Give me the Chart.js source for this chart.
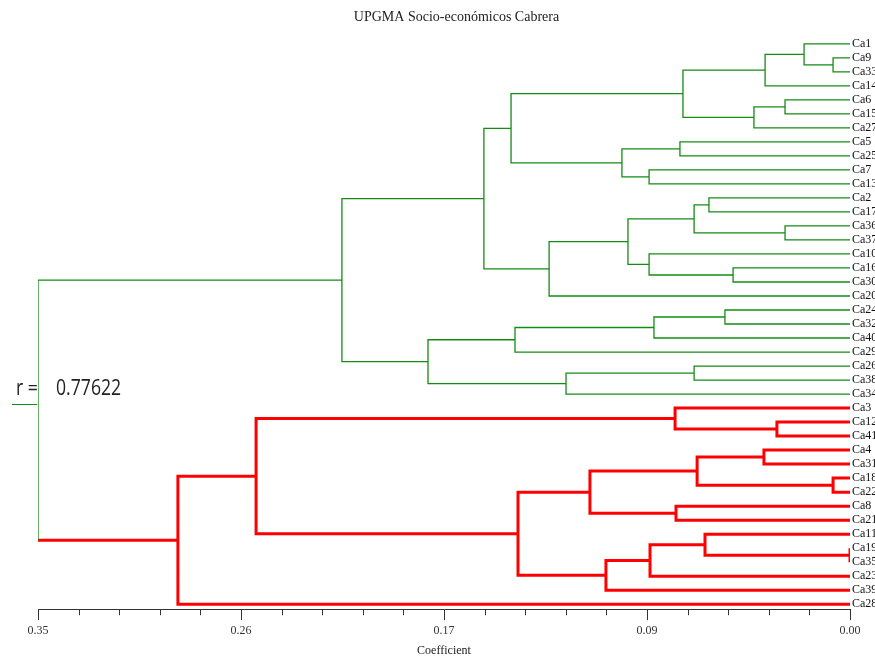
<!DOCTYPE html>
<html>
<head>
<meta charset="utf-8">
<script src="https://cdn.jsdelivr.net/npm/chart.js@4.4.1/dist/chart.umd.min.js"></script>
<style>
    html, body { margin: 0; padding: 0; background: #fff; }
    #dendro { display: block; }
</style>
</head>
<body>
<canvas id="dendro" width="875" height="661"></canvas>
<script>
// =====================================================
// UPGMA dendrogram (Chart.js scatter lines)
// =====================================================

// leaf order, top to bottom
const leaves = [
    'Ca1', 'Ca9', 'Ca33', 'Ca14', 'Ca6', 'Ca15', 'Ca27', 'Ca5', 'Ca25', 'Ca7', 'Ca13',
    'Ca2', 'Ca17', 'Ca36', 'Ca37', 'Ca10', 'Ca16', 'Ca30', 'Ca20', 'Ca24', 'Ca32', 'Ca40',
    'Ca29', 'Ca26', 'Ca38', 'Ca34', 'Ca3', 'Ca12', 'Ca41', 'Ca4', 'Ca31', 'Ca18', 'Ca22',
    'Ca8', 'Ca21', 'Ca11', 'Ca19', 'Ca35', 'Ca23', 'Ca39', 'Ca28'
];

// merges: a leaf name or the number (1-based) of an earlier merge
const mergeA = [
    'Ca9', 'Ca1', 2, 'Ca6', 4, 3, 'Ca5', 'Ca7', 7, 6,
    'Ca2', 'Ca36', 11, 'Ca16', 'Ca10', 13, 16, 10, 'Ca24', 19,
    20, 'Ca26', 22, 21, 18, 'Ca12', 'Ca3', 'Ca4', 'Ca18', 28,
    'Ca8', 30, 'Ca19', 'Ca11', 34, 35, 32, 27, 38, 25
];
const mergeB = [
    'Ca33', 1, 'Ca14', 'Ca15', 'Ca27', 5, 'Ca25', 'Ca13', 8, 9,
    'Ca17', 'Ca37', 12, 'Ca30', 14, 15, 'Ca20', 17, 'Ca32', 'Ca40',
    'Ca29', 'Ca38', 'Ca34', 23, 24, 'Ca41', 26, 'Ca31', 'Ca22', 29,
    'Ca21', 31, 'Ca35', 33, 'Ca23', 'Ca39', 36, 37, 'Ca28', 39
];
const mergeHeight = [
    0.0073, 0.0198, 0.0366, 0.0280, 0.0414, 0.0720, 0.0733, 0.0866, 0.0983, 0.1461,
    0.0608, 0.0280, 0.0672, 0.0504, 0.0866, 0.0957, 0.1297, 0.1578, 0.0539, 0.0845,
    0.1444, 0.0672, 0.1224, 0.1819, 0.2190, 0.0315, 0.0754, 0.0371, 0.0073, 0.0659,
    0.0750, 0.1121, 0.0000, 0.0625, 0.0862, 0.1052, 0.1431, 0.2560, 0.2897, 0.3500
];

const xTickLabels = ['0.00', '0.09', '0.17', '0.26', '0.35'];
const cophenetic = '0.77622';

const STEP = 0.0175;   // minor tick step, every 5th one labelled
const GREEN = '#148c14';
const RED = '#ff0000';
const SERIF = "'Liberation Serif', 'Times New Roman', serif";

// ---- layout of the tree ----
const nodes = mergeHeight.map(() => ({}));

function ref(c) {
    if (typeof c === 'string') return { x: 0, y: leaves.indexOf(c), group: null };
    return nodes[c - 1];
}

mergeHeight.forEach((h, i) => {
    const a = ref(mergeA[i]);
    const b = ref(mergeB[i]);
    nodes[i] = { x: h, y: (a.y + b.y) / 2, a, b };
});

// the two clusters under the root: first green, second red
const root = nodes[nodes.length - 1];
function paint(n, g) {
    if (!n || !n.a) return;
    n.group = g;
    paint(n.a, g);
    paint(n.b, g);
}
paint(root.a, 0);
paint(root.b, 1);
root.group = 0;
// leaves take the colour of their parent
nodes.forEach(n => {
    if (!n.a.a) n.a.group = n.group;
    if (!n.b.a) n.b.group = n.group;
});

const paths = [[], []];
const GAP = { x: null, y: null };
nodes.forEach(n => {
    if (n.a.group === n.group && n.b.group === n.group) {
        paths[n.group].push(
            { x: n.a.x, y: n.a.y }, { x: n.x, y: n.a.y },
            { x: n.x, y: n.b.y }, { x: n.b.x, y: n.b.y }, GAP
        );
    } else {
        paths[n.a.group].push({ x: n.a.x, y: n.a.y }, { x: n.x, y: n.a.y }, GAP);
        paths[n.b.group].push({ x: n.b.x, y: n.b.y }, { x: n.x, y: n.b.y }, GAP);
        paths[n.group].push({ x: n.x, y: n.a.y }, { x: n.x, y: n.b.y }, GAP);
    }
});

const stepIndex = (v) => Math.round(v / STEP);
const isMajor = (v) => stepIndex(v) % 5 === 0;

// minor ticks (shorter) between labelled ones
const minorTicks = {
    id: 'minorTicks',
    afterDraw(chart) {
        const sc = chart.scales.x;
        const ctx = chart.ctx;
        ctx.save();
        ctx.strokeStyle = '#333';
        ctx.lineWidth = 1;
        sc.ticks.forEach(t => {
            if (isMajor(t.value)) return;
            const px = Math.round(sc.getPixelForValue(t.value)) + 0.5;
            ctx.beginPath();
            ctx.moveTo(px, sc.top);
            ctx.lineTo(px, sc.top + 6);
            ctx.stroke();
        });
        ctx.restore();
    }
};

// cophenetic correlation note
const rNote = {
    id: 'rNote',
    afterDraw(chart) {
        const ctx = chart.ctx;
        ctx.save();
        ctx.fillStyle = '#222';
        ctx.textBaseline = 'alphabetic';
        ctx.font = "21px 'Open Sans', sans-serif";
        ctx.translate(0, 395);
        ctx.scale(0.84, 1);
        ctx.fillText('r =', 16 / 0.84, 0);
        ctx.fillText(cophenetic, 56 / 0.84, 0);
        ctx.restore();
        ctx.save();
        ctx.strokeStyle = GREEN;
        ctx.lineWidth = 1;
        ctx.beginPath();
        ctx.moveTo(12, 404.5);
        ctx.lineTo(37, 404.5);
        ctx.stroke();
        ctx.restore();
    }
};

new Chart(document.getElementById('dendro'), {
    type: 'scatter',
    data: {
        datasets: [
            {
                data: paths[0],
                showLine: true,
                borderColor: GREEN,
                borderWidth: 1.3,
                pointRadius: 0,
                borderJoinStyle: 'miter',
                spanGaps: false
            },
            {
                data: paths[1],
                showLine: true,
                borderColor: RED,
                borderWidth: 3,
                pointRadius: 0,
                borderJoinStyle: 'miter',
                spanGaps: false
            }
        ]
    },
    options: {
        responsive: false,
        animation: false,
        devicePixelRatio: 1,
        layout: { padding: { left: 38, right: 0, top: 0, bottom: 0 } },
        plugins: {
            legend: { display: false },
            tooltip: { enabled: false },
            title: {
                display: true,
                text: 'UPGMA Socio-económicos Cabrera',
                color: '#222',
                font: { family: SERIF, size: 14, weight: 'normal' },
                padding: { top: 9, bottom: 4 }
            }
        },
        scales: {
            x: {
                type: 'linear',
                reverse: true,
                min: 0,
                max: 0.35,
                grid: {
                    drawOnChartArea: false,
                    tickLength: 11,
                    tickColor: (c) => (c.tick && isMajor(c.tick.value) ? '#333' : 'rgba(0,0,0,0)')
                },
                border: { display: true, color: '#333', width: 1 },
                ticks: {
                    stepSize: STEP,
                    autoSkip: false,
                    maxRotation: 0,
                    padding: 3,
                    color: '#333',
                    font: { family: SERIF, size: 12 },
                    callback: (v) => (isMajor(v) ? xTickLabels[stepIndex(v) / 5] : '')
                },
                title: {
                    display: true,
                    text: 'Coefficient',
                    color: '#222',
                    font: { family: SERIF, size: 12 },
                    padding: { top: 3, bottom: 3 }
                }
            },
            y: {
                type: 'linear',
                position: 'right',
                reverse: true,
                min: -1,
                max: 40.356,
                afterFit: (sc) => { sc.width = 25; },
                grid: { display: false, drawTicks: false },
                border: { display: false },
                ticks: {
                    stepSize: 1,
                    includeBounds: false,
                    autoSkip: false,
                    padding: 2,
                    color: '#111',
                    font: { family: SERIF, size: 12 },
                    callback: (v) => (Number.isInteger(v) && v >= 0 ? leaves[v] : '')
                }
            }
        }
    },
    plugins: [minorTicks, rNote]
});
</script>
</body>
</html>
